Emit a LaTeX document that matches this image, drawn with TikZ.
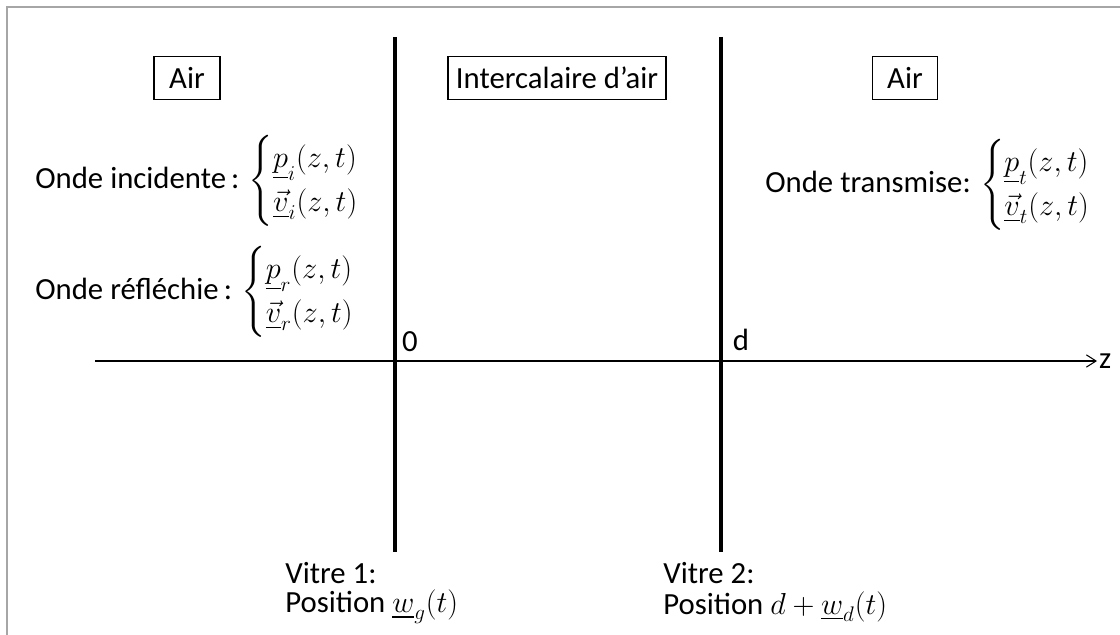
\documentclass[tikz,border=0pt]{standalone}
\usepackage{amsmath}
\usepackage{fontspec}
\setmainfont{Carlito}
\usetikzlibrary{arrows.meta, positioning}
\colorlet{framegray}{black!35}

\begin{document}
\begin{tikzpicture}[>={Straight Barb[length=5.5pt, width=7pt]},
    x=0.02cm, y=-0.02cm, font=\fontsize{17.5}{21}\selectfont,
    boxlabel/.style={draw, line width=0.6pt, minimum height=0.86cm, inner xsep=2pt},
    pane/.style={line width=2.4pt},
    wavelabel/.style={anchor=west, inner sep=0pt}]
    \useasboundingbox (0,0) rectangle (1120,635);

    % Frame of the figure
    \draw[framegray, line width=1pt] (7,635) -- (7,7) -- (1120,7);

    % Panes
    \draw[pane] (395,37) coordinate (pane1top) -- (395,552) coordinate (pane1bot);
    \draw[pane] (721,37) coordinate (pane2top) -- (721,552) coordinate (pane2bot);

    % Axis
    \coordinate (zstart) at (95,361);
    \coordinate (zend) at (1097,361);
    \draw[->, line width=0.6pt] (zstart) -- (zend);
    \node[anchor=west, inner sep=1pt] (zlabel) at (zend) {z};
    \node (origin) at (410,342) {0};
    \node (dlabel) at (741,340) {d};

    % Media labels
    \node[boxlabel, minimum width=1.32cm] (airleft) at (187,78) {Air};
    \node[boxlabel, minimum width=4.36cm] (gap) at (557,78) {Intercalaire d’air};
    \node[boxlabel, minimum width=1.30cm] (airright) at (905,78) {Air};

    % Waves
    \node[wavelabel] (incid) at (35,181) {Onde incidente\,: $\begin{cases}
        \underline{p}_i(z,t)\\ \underline{\vec{v}}_i(z,t) \end{cases}$};
    \node[wavelabel] (refl) at (35,292) {Onde réfléchie\,: $\begin{cases}
        \underline{p}_r(z,t)\\ \underline{\vec{v}}_r(z,t) \end{cases}$};
    \node[wavelabel] (trans) at (765,185) {Onde transmise: $\begin{cases}
        \underline{p}_t(z,t)\\ \underline{\vec{v}}_t(z,t) \end{cases}$};

    % Positions of the panes
    \node[wavelabel] (vitre1) at (285,573) {Vitre 1:};
    \node[wavelabel] (pos1) at (285,607) {Position $\underline{w}_g(t)$};
    \node[wavelabel] (vitre2) at (663,573) {Vitre 2:};
    \node[wavelabel] (pos2) at (663,607) {Position $d+\underline{w}_d(t)$};
\end{tikzpicture}
\end{document}
